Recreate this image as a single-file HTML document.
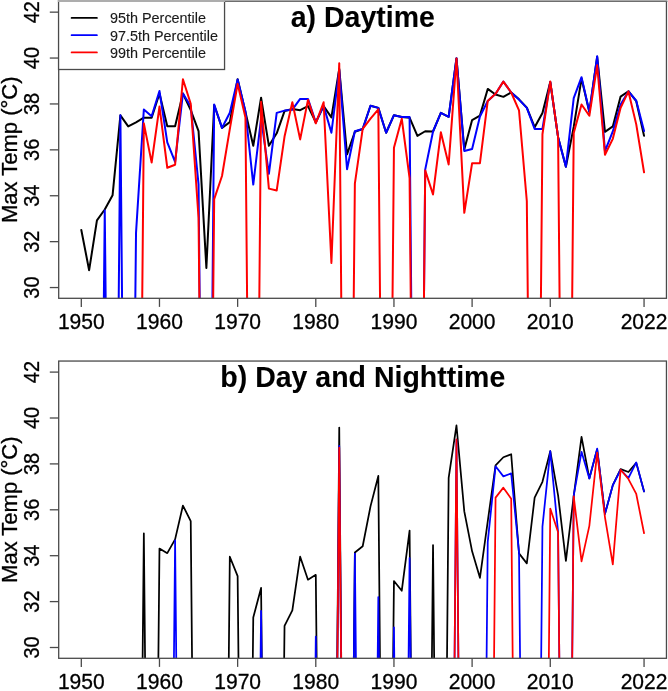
<!DOCTYPE html>
<html><head><meta charset="utf-8"><style>
html,body{margin:0;padding:0;background:#fff;}
svg{display:block;}
text{font-family:"Liberation Sans",sans-serif;fill:#000;stroke:#000;stroke-width:0.3px;}
svg{will-change:transform;}
</style></head><body>
<svg width="668" height="691" viewBox="0 0 668 691">
<rect width="668" height="691" fill="#fff"/>
<clipPath id="clip_top"><rect x="58.70" y="0.25" width="607.75" height="298.05"/></clipPath>
<g clip-path="url(#clip_top)" fill="none" stroke-width="2.00" stroke-linejoin="round" stroke-linecap="round">
<polyline stroke="#000" points="81.31,229.95 89.13,270.22 96.94,220.31 104.76,209.52 112.57,195.29 120.39,115.31 128.21,126.44 136.02,122.31 143.84,117.72 151.65,117.72 159.47,93.51 167.29,126.21 175.10,126.21 182.92,93.51 190.73,110.15 198.55,131.03 206.37,267.93 214.18,104.98 222.00,127.93 229.81,122.08 237.63,79.28 245.45,111.98 253.26,145.83 261.08,97.64 268.89,145.83 276.71,133.33 284.53,111.06 292.34,109.00 300.16,110.15 307.97,106.02 315.79,122.42 323.61,106.13 331.42,117.38 339.24,68.95 347.05,154.33 354.87,131.72 362.69,128.97 370.50,105.79 378.32,107.85 386.13,132.75 393.95,115.20 401.77,117.03 409.58,117.72 417.40,135.85 425.21,131.26 433.03,131.49 440.85,112.90 448.66,116.80 456.48,58.39 464.29,149.51 472.11,120.02 479.93,115.65 487.74,88.92 495.56,94.54 503.37,96.84 511.19,92.48 519.01,99.36 526.82,107.62 534.64,127.24 542.45,112.90 550.27,82.03 558.09,137.23 565.90,166.72 573.72,126.90 581.53,78.59 589.35,112.10 597.17,56.79 604.98,131.83 612.80,126.44 620.61,96.61 628.43,91.21 636.25,101.20 644.06,135.85"/>
<polyline stroke="#00f" points="81.31,976.05 89.13,976.05 96.94,976.05 104.76,210.55 112.57,976.05 120.39,115.31 128.21,976.05 136.02,232.93 143.84,109.57 151.65,116.23 159.47,90.98 167.29,142.28 175.10,161.90 182.92,93.51 190.73,106.25 198.55,184.28 206.37,976.05 214.18,104.52 222.00,127.93 229.81,112.67 237.63,79.51 245.45,111.52 253.26,184.62 261.08,118.29 268.89,173.83 276.71,112.90 284.53,110.61 292.34,109.69 300.16,98.90 307.97,98.90 315.79,122.42 323.61,105.90 331.42,132.75 339.24,69.87 347.05,169.24 354.87,131.26 362.69,128.97 370.50,105.79 378.32,107.85 386.13,132.75 393.95,115.20 401.77,117.03 409.58,117.03 417.40,976.05 425.21,169.59 433.03,131.49 440.85,112.90 448.66,116.80 456.48,58.16 464.29,151.00 472.11,148.93 479.93,116.57 487.74,100.97 495.56,93.85 503.37,81.57 511.19,92.48 519.01,99.59 526.82,107.85 534.64,128.97 542.45,128.97 550.27,82.03 558.09,137.23 565.90,166.72 573.72,98.21 581.53,77.21 589.35,111.64 597.17,56.33 604.98,151.11 612.80,131.49 620.61,104.41 628.43,91.44 636.25,100.74 644.06,131.03"/>
<polyline stroke="#f00" points="81.31,976.05 89.13,976.05 96.94,976.05 104.76,976.05 112.57,976.05 120.39,976.05 128.21,976.05 136.02,976.05 143.84,123.34 151.65,162.59 159.47,106.59 167.29,167.75 175.10,164.77 182.92,79.28 190.73,103.72 198.55,218.01 206.37,976.05 214.18,199.19 222.00,176.01 229.81,129.20 237.63,83.87 245.45,117.49 253.26,976.05 261.08,101.77 268.89,188.64 276.71,190.47 284.53,136.54 292.34,102.23 300.16,139.41 307.97,99.93 315.79,123.34 323.61,102.23 331.42,262.88 339.24,63.21 347.05,976.05 354.87,183.59 362.69,128.97 370.50,118.64 378.32,109.34 386.13,976.05 393.95,147.78 401.77,118.75 409.58,178.08 417.40,976.05 425.21,170.39 433.03,194.49 440.85,132.29 448.66,164.42 456.48,58.39 464.29,212.85 472.11,163.16 479.93,163.16 487.74,100.97 495.56,93.85 503.37,81.57 511.19,92.48 519.01,110.38 526.82,201.03 534.64,976.05 542.45,134.24 550.27,81.57 558.09,137.23 565.90,976.05 573.72,132.87 581.53,104.52 589.35,115.77 597.17,65.28 604.98,154.78 612.80,138.83 620.61,107.85 628.43,91.44 636.25,124.38 644.06,172.34"/>
</g>
<rect x="58.70" y="1.25" width="607.75" height="297.05" fill="none" stroke="#4a4a4a" stroke-width="1.30"/>
<line x1="49.80" y1="287.55" x2="58.70" y2="287.55" stroke="#4a4a4a" stroke-width="1.30"/>
<text x="0" y="0" transform="translate(38.70 287.55) rotate(-90) scale(0.930 1.040)" text-anchor="middle" font-size="21.5">30</text>
<line x1="49.80" y1="241.65" x2="58.70" y2="241.65" stroke="#4a4a4a" stroke-width="1.30"/>
<text x="0" y="0" transform="translate(38.70 241.65) rotate(-90) scale(0.930 1.040)" text-anchor="middle" font-size="21.5">32</text>
<line x1="49.80" y1="195.75" x2="58.70" y2="195.75" stroke="#4a4a4a" stroke-width="1.30"/>
<text x="0" y="0" transform="translate(38.70 195.75) rotate(-90) scale(0.930 1.040)" text-anchor="middle" font-size="21.5">34</text>
<line x1="49.80" y1="149.85" x2="58.70" y2="149.85" stroke="#4a4a4a" stroke-width="1.30"/>
<text x="0" y="0" transform="translate(38.70 149.85) rotate(-90) scale(0.930 1.040)" text-anchor="middle" font-size="21.5">36</text>
<line x1="49.80" y1="103.95" x2="58.70" y2="103.95" stroke="#4a4a4a" stroke-width="1.30"/>
<text x="0" y="0" transform="translate(38.70 103.95) rotate(-90) scale(0.930 1.040)" text-anchor="middle" font-size="21.5">38</text>
<line x1="49.80" y1="58.05" x2="58.70" y2="58.05" stroke="#4a4a4a" stroke-width="1.30"/>
<text x="0" y="0" transform="translate(38.70 58.05) rotate(-90) scale(0.930 1.040)" text-anchor="middle" font-size="21.5">40</text>
<line x1="49.80" y1="12.15" x2="58.70" y2="12.15" stroke="#4a4a4a" stroke-width="1.30"/>
<text x="0" y="0" transform="translate(38.70 12.15) rotate(-90) scale(0.930 1.040)" text-anchor="middle" font-size="21.5">42</text>
<line x1="81.31" y1="298.30" x2="81.31" y2="306.90" stroke="#4a4a4a" stroke-width="1.30"/>
<text x="0" y="0" transform="translate(81.31 329.15) scale(0.980 1.040)" text-anchor="middle" font-size="21.5">1950</text>
<line x1="159.47" y1="298.30" x2="159.47" y2="306.90" stroke="#4a4a4a" stroke-width="1.30"/>
<text x="0" y="0" transform="translate(159.47 329.15) scale(0.980 1.040)" text-anchor="middle" font-size="21.5">1960</text>
<line x1="237.63" y1="298.30" x2="237.63" y2="306.90" stroke="#4a4a4a" stroke-width="1.30"/>
<text x="0" y="0" transform="translate(237.63 329.15) scale(0.980 1.040)" text-anchor="middle" font-size="21.5">1970</text>
<line x1="315.79" y1="298.30" x2="315.79" y2="306.90" stroke="#4a4a4a" stroke-width="1.30"/>
<text x="0" y="0" transform="translate(315.79 329.15) scale(0.980 1.040)" text-anchor="middle" font-size="21.5">1980</text>
<line x1="393.95" y1="298.30" x2="393.95" y2="306.90" stroke="#4a4a4a" stroke-width="1.30"/>
<text x="0" y="0" transform="translate(393.95 329.15) scale(0.980 1.040)" text-anchor="middle" font-size="21.5">1990</text>
<line x1="472.11" y1="298.30" x2="472.11" y2="306.90" stroke="#4a4a4a" stroke-width="1.30"/>
<text x="0" y="0" transform="translate(472.11 329.15) scale(0.980 1.040)" text-anchor="middle" font-size="21.5">2000</text>
<line x1="550.27" y1="298.30" x2="550.27" y2="306.90" stroke="#4a4a4a" stroke-width="1.30"/>
<text x="0" y="0" transform="translate(550.27 329.15) scale(0.980 1.040)" text-anchor="middle" font-size="21.5">2010</text>
<line x1="644.06" y1="298.30" x2="644.06" y2="306.90" stroke="#4a4a4a" stroke-width="1.30"/>
<text x="0" y="0" transform="translate(644.06 329.15) scale(0.980 1.040)" text-anchor="middle" font-size="21.5">2022</text>
<text x="0" y="0" transform="translate(17.40 149.78) rotate(-90) scale(1 1.040)" text-anchor="middle" font-size="22">Max Temp (°C)</text>
<rect x="58.55" y="-3" width="166.0" height="72.5" fill="#fff" stroke="#4a4a4a" stroke-width="1.3"/>
<rect x="57.8" y="0" width="167.4" height="2" fill="#adadad"/>
<rect x="225.2" y="0" width="442.2" height="1" fill="#aaa"/>
<rect x="225.2" y="1" width="442.2" height="1" fill="#6e6e6e"/>
<line x1="71.6" y1="17.95" x2="96.9" y2="17.95" stroke="#000" stroke-width="1.8" stroke-linecap="round"/>
<text x="0" y="0" transform="translate(110.00 23.40)" font-size="14.4" style="fill:#1a1a1a;stroke:#1a1a1a;stroke-width:0.12px">95th Percentile</text>
<line x1="71.6" y1="35.15" x2="96.9" y2="35.15" stroke="#00f" stroke-width="1.8" stroke-linecap="round"/>
<text x="0" y="0" transform="translate(110.00 40.60)" font-size="14.4" style="fill:#1a1a1a;stroke:#1a1a1a;stroke-width:0.12px">97.5th Percentile</text>
<line x1="71.6" y1="52.40" x2="96.9" y2="52.40" stroke="#f00" stroke-width="1.8" stroke-linecap="round"/>
<text x="0" y="0" transform="translate(110.00 57.85)" font-size="14.4" style="fill:#1a1a1a;stroke:#1a1a1a;stroke-width:0.12px">99th Percentile</text>
<text x="0" y="0" transform="translate(362.8 26.7) scale(1 1.025)" text-anchor="middle" font-size="28.5" font-weight="bold" style="stroke-width:0.1px">a) Daytime</text>
<clipPath id="clip_bot"><rect x="58.70" y="360.05" width="607.75" height="298.25"/></clipPath>
<g clip-path="url(#clip_bot)" fill="none" stroke-width="1.75" stroke-linejoin="round" stroke-linecap="round">
<polyline stroke="#000" points="81.31,1336.00 89.13,1336.00 96.94,1336.00 104.76,1336.00 112.57,1336.00 120.39,1336.00 128.21,1336.00 136.02,1336.00 143.84,533.32 151.65,1336.00 159.47,548.59 167.29,553.18 175.10,539.41 182.92,505.55 190.73,521.05 198.55,1336.00 206.37,1336.00 214.18,1336.00 222.00,1336.00 229.81,556.73 237.63,576.13 245.45,1336.00 253.26,617.44 261.08,587.94 268.89,1336.00 276.71,1336.00 284.53,625.93 292.34,610.32 300.16,556.73 307.97,579.68 315.79,574.86 323.61,1336.00 331.42,1336.00 339.24,427.52 347.05,1336.00 354.87,552.49 362.69,546.29 370.50,506.36 378.32,475.95 386.13,1336.00 393.95,581.06 401.77,590.70 409.58,530.57 417.40,1336.00 425.21,1336.00 433.03,545.03 440.85,1336.00 448.66,477.90 456.48,425.46 464.29,511.41 472.11,551.34 479.93,577.85 487.74,521.27 495.56,465.28 503.37,457.24 511.19,454.26 519.01,553.40 526.82,563.39 534.64,497.64 542.45,481.80 550.27,451.16 558.09,495.34 565.90,560.86 573.72,496.03 581.53,436.93 589.35,478.47 597.17,449.33 604.98,513.82 612.80,485.24 620.61,469.06 628.43,472.05 636.25,462.87 644.06,491.44"/>
<polyline stroke="#00f" points="81.31,1336.00 89.13,1336.00 96.94,1336.00 104.76,1336.00 112.57,1336.00 120.39,1336.00 128.21,1336.00 136.02,1336.00 143.84,1336.00 151.65,1336.00 159.47,1336.00 167.29,1336.00 175.10,540.44 182.92,1336.00 190.73,1336.00 198.55,1336.00 206.37,1336.00 214.18,1336.00 222.00,1336.00 229.81,1336.00 237.63,1336.00 245.45,1336.00 253.26,1336.00 261.08,610.89 268.89,1336.00 276.71,1336.00 284.53,1336.00 292.34,1336.00 300.16,1336.00 307.97,1336.00 315.79,636.60 323.61,1336.00 331.42,1336.00 339.24,445.88 347.05,1336.00 354.87,553.52 362.69,1336.00 370.50,1336.00 378.32,597.12 386.13,1336.00 393.95,627.42 401.77,1336.00 409.58,558.11 417.40,1336.00 425.21,1336.00 433.03,1336.00 440.85,1336.00 448.66,1336.00 456.48,439.69 464.29,1336.00 472.11,1336.00 479.93,1336.00 487.74,541.93 495.56,466.31 503.37,476.41 511.19,473.42 519.01,552.49 526.82,1336.00 534.64,1336.00 542.45,526.55 550.27,451.16 558.09,532.06 565.90,1336.00 573.72,495.34 581.53,451.85 589.35,478.47 597.17,448.64 604.98,513.82 612.80,485.24 620.61,469.75 628.43,478.01 636.25,462.41 644.06,491.44"/>
<polyline stroke="#f00" points="81.31,1336.00 89.13,1336.00 96.94,1336.00 104.76,1336.00 112.57,1336.00 120.39,1336.00 128.21,1336.00 136.02,1336.00 143.84,1336.00 151.65,1336.00 159.47,1336.00 167.29,1336.00 175.10,1336.00 182.92,1336.00 190.73,1336.00 198.55,1336.00 206.37,1336.00 214.18,1336.00 222.00,1336.00 229.81,1336.00 237.63,1336.00 245.45,1336.00 253.26,1336.00 261.08,1336.00 268.89,1336.00 276.71,1336.00 284.53,1336.00 292.34,1336.00 300.16,1336.00 307.97,1336.00 315.79,1336.00 323.61,1336.00 331.42,1336.00 339.24,447.72 347.05,1336.00 354.87,1336.00 362.69,1336.00 370.50,1336.00 378.32,1336.00 386.13,1336.00 393.95,1336.00 401.77,1336.00 409.58,1336.00 417.40,1336.00 425.21,1336.00 433.03,1336.00 440.85,1336.00 448.66,1336.00 456.48,439.46 464.29,1336.00 472.11,1336.00 479.93,1336.00 487.74,1336.00 495.56,497.64 503.37,487.65 511.19,498.78 519.01,1336.00 526.82,1336.00 534.64,1336.00 542.45,1336.00 550.27,508.54 558.09,532.29 565.90,1336.00 573.72,496.37 581.53,561.32 589.35,525.87 597.17,452.54 604.98,517.37 612.80,564.31 620.61,469.75 628.43,479.05 636.25,493.96 644.06,533.21"/>
</g>
<rect x="58.70" y="361.05" width="607.75" height="297.25" fill="none" stroke="#4a4a4a" stroke-width="1.30"/>
<line x1="49.80" y1="647.50" x2="58.70" y2="647.50" stroke="#4a4a4a" stroke-width="1.30"/>
<text x="0" y="0" transform="translate(38.70 647.50) rotate(-90) scale(0.930 1.040)" text-anchor="middle" font-size="21.5">30</text>
<line x1="49.80" y1="601.60" x2="58.70" y2="601.60" stroke="#4a4a4a" stroke-width="1.30"/>
<text x="0" y="0" transform="translate(38.70 601.60) rotate(-90) scale(0.930 1.040)" text-anchor="middle" font-size="21.5">32</text>
<line x1="49.80" y1="555.70" x2="58.70" y2="555.70" stroke="#4a4a4a" stroke-width="1.30"/>
<text x="0" y="0" transform="translate(38.70 555.70) rotate(-90) scale(0.930 1.040)" text-anchor="middle" font-size="21.5">34</text>
<line x1="49.80" y1="509.80" x2="58.70" y2="509.80" stroke="#4a4a4a" stroke-width="1.30"/>
<text x="0" y="0" transform="translate(38.70 509.80) rotate(-90) scale(0.930 1.040)" text-anchor="middle" font-size="21.5">36</text>
<line x1="49.80" y1="463.90" x2="58.70" y2="463.90" stroke="#4a4a4a" stroke-width="1.30"/>
<text x="0" y="0" transform="translate(38.70 463.90) rotate(-90) scale(0.930 1.040)" text-anchor="middle" font-size="21.5">38</text>
<line x1="49.80" y1="418.00" x2="58.70" y2="418.00" stroke="#4a4a4a" stroke-width="1.30"/>
<text x="0" y="0" transform="translate(38.70 418.00) rotate(-90) scale(0.930 1.040)" text-anchor="middle" font-size="21.5">40</text>
<line x1="49.80" y1="372.10" x2="58.70" y2="372.10" stroke="#4a4a4a" stroke-width="1.30"/>
<text x="0" y="0" transform="translate(38.70 372.10) rotate(-90) scale(0.930 1.040)" text-anchor="middle" font-size="21.5">42</text>
<line x1="81.31" y1="658.30" x2="81.31" y2="666.90" stroke="#4a4a4a" stroke-width="1.30"/>
<text x="0" y="0" transform="translate(81.31 689.15) scale(0.980 1.040)" text-anchor="middle" font-size="21.5">1950</text>
<line x1="159.47" y1="658.30" x2="159.47" y2="666.90" stroke="#4a4a4a" stroke-width="1.30"/>
<text x="0" y="0" transform="translate(159.47 689.15) scale(0.980 1.040)" text-anchor="middle" font-size="21.5">1960</text>
<line x1="237.63" y1="658.30" x2="237.63" y2="666.90" stroke="#4a4a4a" stroke-width="1.30"/>
<text x="0" y="0" transform="translate(237.63 689.15) scale(0.980 1.040)" text-anchor="middle" font-size="21.5">1970</text>
<line x1="315.79" y1="658.30" x2="315.79" y2="666.90" stroke="#4a4a4a" stroke-width="1.30"/>
<text x="0" y="0" transform="translate(315.79 689.15) scale(0.980 1.040)" text-anchor="middle" font-size="21.5">1980</text>
<line x1="393.95" y1="658.30" x2="393.95" y2="666.90" stroke="#4a4a4a" stroke-width="1.30"/>
<text x="0" y="0" transform="translate(393.95 689.15) scale(0.980 1.040)" text-anchor="middle" font-size="21.5">1990</text>
<line x1="472.11" y1="658.30" x2="472.11" y2="666.90" stroke="#4a4a4a" stroke-width="1.30"/>
<text x="0" y="0" transform="translate(472.11 689.15) scale(0.980 1.040)" text-anchor="middle" font-size="21.5">2000</text>
<line x1="550.27" y1="658.30" x2="550.27" y2="666.90" stroke="#4a4a4a" stroke-width="1.30"/>
<text x="0" y="0" transform="translate(550.27 689.15) scale(0.980 1.040)" text-anchor="middle" font-size="21.5">2010</text>
<line x1="644.06" y1="658.30" x2="644.06" y2="666.90" stroke="#4a4a4a" stroke-width="1.30"/>
<text x="0" y="0" transform="translate(644.06 689.15) scale(0.980 1.040)" text-anchor="middle" font-size="21.5">2022</text>
<text x="0" y="0" transform="translate(17.40 509.67) rotate(-90) scale(1 1.040)" text-anchor="middle" font-size="22">Max Temp (°C)</text>
<text x="0" y="0" transform="translate(362.8 386.7) scale(1 1.025)" text-anchor="middle" font-size="28.5" font-weight="bold" style="stroke-width:0.1px">b) Day and Nighttime</text>
</svg>
</body></html>
